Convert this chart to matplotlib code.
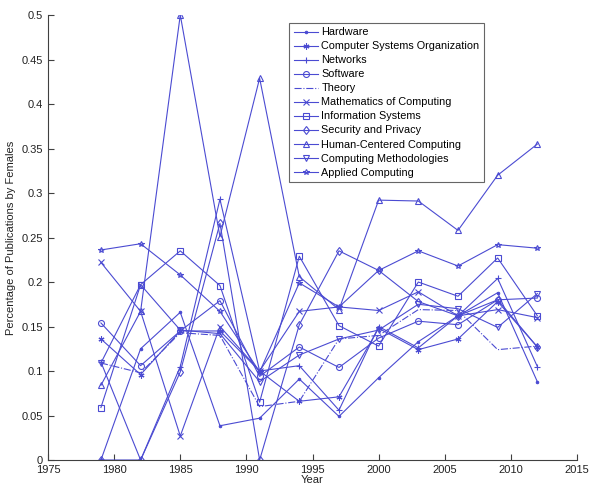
import matplotlib
matplotlib.use('Agg')
import matplotlib.pyplot as plt

plt.rcParams['font.family'] = ['Liberation Sans', 'DejaVu Sans']

years = [1979, 1982, 1985, 1988, 1991, 1994, 1997, 2000, 2003, 2006, 2009, 2012]

hardware = [0, 0.125, 0.166, 0.0385, 0.047, 0.091, 0.049, 0.0925, 0.133, 0.162, 0.188, 0.088]
comp_sys_org = [0.136, 0.096, 0.145, 0.145, 0.100, 0.066, 0.071, 0.148, 0.124, 0.136, 0.178, 0.127]
networks = [0.110, 0, 0.105, 0.293, 0.100, 0.106, 0.056, 0.150, 0.126, 0.162, 0.204, 0.105]
software = [0.154, 0.106, 0.145, 0.179, 0.094, 0.127, 0.104, 0.137, 0.156, 0.152, 0.180, 0.182]
theory = [0.109, 0.098, 0.143, 0.140, 0.060, 0.066, 0.136, 0.140, 0.169, 0.168, 0.124, 0.128]
math_comp = [0.222, 0.167, 0.027, 0.150, 0.100, 0.167, 0.172, 0.168, 0.189, 0.162, 0.169, 0.160]
info_sys = [0.059, 0.197, 0.235, 0.196, 0.065, 0.229, 0.151, 0.128, 0.200, 0.184, 0.227, 0.162]
security = [0, 0, 0.099, 0.266, 0, 0.152, 0.235, 0.213, 0.178, 0.162, 0.180, 0.127]
hcc = [0.084, 0.167, 0.500, 0.251, 0.429, 0.206, 0.169, 0.292, 0.291, 0.258, 0.320, 0.355]
comp_meth = [0.109, 0.197, 0.146, 0.142, 0.088, 0.118, 0.136, 0.146, 0.175, 0.170, 0.149, 0.187]
applied = [0.236, 0.243, 0.208, 0.167, 0.099, 0.199, 0.172, 0.213, 0.235, 0.218, 0.242, 0.238]

series = [
    ('Hardware', hardware, '.', '-'),
    ('Computer Systems Organization', comp_sys_org, (6, 2, 0), '-'),
    ('Networks', networks, '+', '-'),
    ('Software', software, 'o', '-'),
    ('Theory', theory, 'None', '-.'),
    ('Mathematics of Computing', math_comp, 'x', '-'),
    ('Information Systems', info_sys, 's', '-'),
    ('Security and Privacy', security, 'd', '-'),
    ('Human-Centered Computing', hcc, '^', '-'),
    ('Computing Methodologies', comp_meth, 'v', '-'),
    ('Applied Computing', applied, '*', '-'),
]

blue = '#4b4bd2'

fig = plt.figure(figsize=(5.9, 4.87), dpi=100)
ax = fig.add_axes([0.0814, 0.0554, 0.8966, 0.9138])

for name, vals, mk, ls in series:
    # the dot marker is drawn solid, the rest hollow
    face = blue if mk == '.' else 'none'
    ms = 3.5 if mk == '.' else 4.3
    ax.plot(years, vals, color=blue, linestyle=ls, linewidth=0.8,
            marker=mk, markersize=ms, markerfacecolor=face,
            markeredgecolor=blue, markeredgewidth=0.8, label=name)

ax.set_xlim(1975, 2015)
ax.set_ylim(0, 0.5)
ax.set_xticks(range(1975, 2016, 5))
yt = [i * 0.05 for i in range(11)]
ax.set_yticks(yt)
ax.set_yticklabels(['0', '0.05', '0.1', '0.15', '0.2', '0.25', '0.3',
                    '0.35', '0.4', '0.45', '0.5'])

for s in ['top', 'right']:
    ax.spines[s].set_visible(False)
for s in ['left', 'bottom']:
    ax.spines[s].set_color('#404040')
    ax.spines[s].set_linewidth(0.8)
ax.tick_params(direction='in', length=4, width=0.8, colors='#404040',
               labelcolor='#222222', labelsize=8)

ax.set_xlabel('Year', fontsize=8, labelpad=0, color='#222222')
ax.set_ylabel('Percentage of Publications by Females', fontsize=8,
              labelpad=4, color='#222222')

leg = ax.legend(loc='upper left', bbox_to_anchor=(0.456, 0.983), fontsize=7.8,
                frameon=True, fancybox=False, labelspacing=0.37,
                handlelength=2.2, handletextpad=0.3, borderpad=0.45,
                borderaxespad=0)
leg.get_frame().set_edgecolor('#404040')
leg.get_frame().set_linewidth(0.8)

fig.savefig('out.png', dpi=100)
